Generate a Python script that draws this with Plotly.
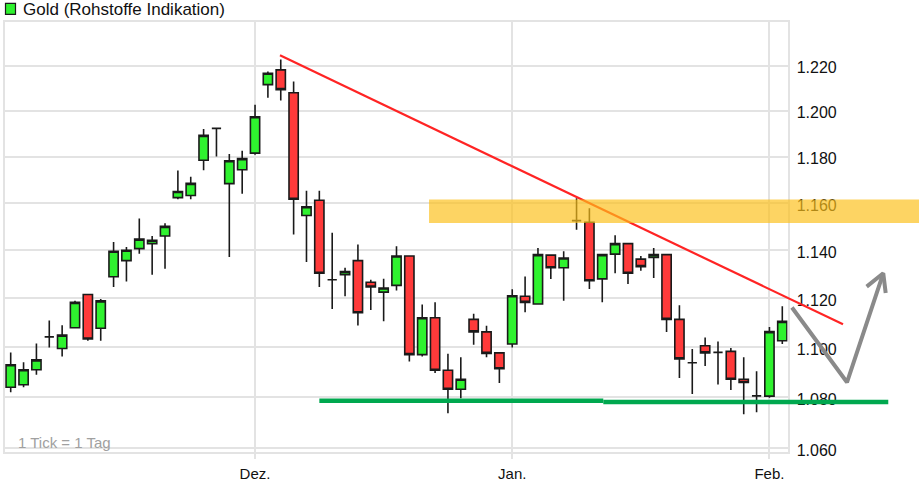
import math
import pandas as pd
import plotly.graph_objects as go

# ---------------- data ----------------
HOLIDAYS = ["2009-12-24", "2009-12-25", "2009-12-31", "2010-01-01"]
_days = pd.bdate_range("2009-11-04", "2010-02-02")
DATES = [d.strftime("%Y-%m-%d") for d in _days if d.strftime("%Y-%m-%d") not in HOLIDAYS]

OPEN = [1084, 1085, 1091, 1104.3, 1099.6, 1108, 1121.6, 1107.8, 1129, 1135.7,
        1140.7, 1142.8, 1146, 1162.3, 1163.2, 1178.4, 1192.3, 1168.3, 1174.3, 1181.5,
        1211.6, 1218.2, 1208, 1154.7, 1161.2, 1127.7, 1129.8, 1135.7, 1126.7, 1122.6,
        1125.4, 1137.6, 1097.1, 1112.1, 1090.8, 1083.2, 1111.4, 1106.3, 1097.8, 1101.4,
        1120.9, 1117.7, 1138, 1132.7, 1152.5, 1151.8, 1128.1, 1138.4, 1142.8, 1136.3,
        1137, 1138.2, 1111.4, 1093.8, 1100.7, 1098, 1098.4, 1087.2, 1080.6, 1080.5,
        1102.7]
HIGH = [1098, 1094, 1101.6, 1111, 1109, 1119, 1121.8, 1119.8, 1143.5, 1141.4,
        1153.4, 1146, 1151.4, 1174, 1171.3, 1192, 1192.5, 1181.1, 1182.5, 1202.7,
        1217.5, 1222.9, 1213, 1165.2, 1165.2, 1147.4, 1132.7, 1142.4, 1127.7, 1128.1,
        1141.7, 1137.8, 1117.5, 1118.4, 1097.4, 1096, 1113.7, 1108.8, 1098, 1123.8,
        1129.1, 1141, 1138.2, 1139.6, 1162, 1157.8, 1138.4, 1146.3, 1143, 1137.6,
        1141, 1138.4, 1117.2, 1099.4, 1104, 1102.4, 1099.8, 1096, 1090.4, 1108.3,
        1116.8]
LOW = [1082, 1084, 1089, 1100, 1096.3, 1107.7, 1102.7, 1102.7, 1124.7, 1127,
       1138.6, 1129.8, 1132.3, 1161.6, 1161.6, 1174.1, 1180, 1137.2, 1164, 1180.8,
       1205.8, 1204.6, 1146.7, 1135.1, 1124.7, 1115.7, 1120.9, 1108.9, 1115.2, 1110.6,
       1123.3, 1094.3, 1096.3, 1089.7, 1073.7, 1079.6, 1101.1, 1096, 1085.7, 1100,
       1114.3, 1117.5, 1128, 1119.1, 1148.6, 1123.9, 1118.4, 1130.4, 1126, 1131.5,
       1128.4, 1106.3, 1087.7, 1081.3, 1092.5, 1085.1, 1082.9, 1073.3, 1074.1, 1079.8,
       1101.4]
CLOSE = [1093, 1091, 1095, 1104.3, 1105, 1118.4, 1103.4, 1119, 1139.6, 1140,
         1144.7, 1144.2, 1150.1, 1164.9, 1168.4, 1189.2, 1192.3, 1178.2, 1179.1, 1197.4,
         1216.7, 1209.4, 1161.6, 1158.4, 1130.4, 1127.7, 1131.1, 1114.1, 1124.7, 1124.3,
         1137.6, 1097.1, 1112.1, 1090.8, 1083.2, 1087.2, 1106.3, 1097.6, 1091.4, 1121.1,
         1118.4, 1138.2, 1132.7, 1136.8, 1152.5, 1127.3, 1138.2, 1142.8, 1130.4, 1133.2,
         1138.2, 1111.4, 1095.4, 1093.8, 1097.8, 1098, 1087.2, 1085.9, 1080.6, 1106.4,
         1110.6]

X_TICKS = ["2009-12-01", "2010-01-04", "2010-02-01"]
X_TICK_LABELS = ["Dez.", "Jan.", "Feb."]
Y_TICKS = [1060, 1080, 1100, 1120, 1140, 1160, 1180, 1200, 1220]
Y_TICK_LABELS = ["1.060", "1.080", "1.100", "1.120", "1.140", "1.160", "1.180", "1.200", "1.220"]

# drawing aids, in (trading-day index, price)
TREND_X = [20.94, 64.72]
TREND_Y = [1224.75, 1109.4]
RESIST_X = [32.53, 72.0]
RESIST_LOW, RESIST_HIGH = 1151.5, 1161.5
SUPPORT1_X = [24.0, 46.08]
SUPPORT1_Y = 1078.6
SUPPORT2_X = [46.08, 68.24]
SUPPORT2_Y = 1078.1
ARROW_X = [60.75, 65.03, 67.85]
ARROW_Y = [1116.3, 1086.0, 1130.4]
HEAD_X = [66.56, 67.85, 68.04]
HEAD_Y = [1124.9, 1130.4, 1122.2]

# ---------------- layout geometry ----------------
W, H = 919, 490
X0_PX, DX_PX = 10.7, 12.86          # pixel of first candle, pixels per day
REF_PRICE, REF_PX, PX_PER_DEC = 1220.0, 66.7, 6339.0
PL, PR, PT, PB = 5.0, 787.5, 22.0, 458.0


def idx_at(px):
    return (px - X0_PX) / DX_PX


def log_at(py):
    return math.log10(REF_PRICE) - (py - REF_PX) / PX_PER_DEC


GRID = "#e3e3e3"
FONT = "Liberation Sans, Arial, sans-serif"

fig = go.Figure()
fig.add_trace(go.Candlestick(
    x=DATES, open=OPEN, high=HIGH, low=LOW, close=CLOSE,
    increasing=dict(fillcolor="#2ff22f", line=dict(color="#1a1a1a", width=1.6)),
    decreasing=dict(fillcolor="#ff3a3a", line=dict(color="#1a1a1a", width=1.6)),
    whiskerwidth=0, showlegend=False, hoverinfo="skip",
    xaxis="x", yaxis="y",
))

# overlay drawing aids (full-figure invisible axes)
fig.add_trace(go.Scatter(x=TREND_X, y=TREND_Y, mode="lines",
                         line=dict(color="#ff2424", width=2.2),
                         xaxis="x2", yaxis="y2", showlegend=False, hoverinfo="skip"))
fig.add_trace(go.Scatter(
    x=[RESIST_X[0], RESIST_X[1], RESIST_X[1], RESIST_X[0], RESIST_X[0]],
    y=[RESIST_LOW, RESIST_LOW, RESIST_HIGH, RESIST_HIGH, RESIST_LOW],
    mode="lines", fill="toself", fillcolor="rgba(252,192,25,0.68)",
    line=dict(width=0), xaxis="x2", yaxis="y2", showlegend=False, hoverinfo="skip"))
for sx, sy in ((SUPPORT1_X, SUPPORT1_Y), (SUPPORT2_X, SUPPORT2_Y)):
    fig.add_trace(go.Scatter(x=sx, y=[sy, sy], mode="lines",
                             line=dict(color="#00a84f", width=4.5),
                             xaxis="x2", yaxis="y2", showlegend=False, hoverinfo="skip"))
fig.add_trace(go.Scatter(x=ARROW_X, y=ARROW_Y, mode="lines",
                         line=dict(color="#8a8a8a", width=4),
                         xaxis="x2", yaxis="y2", showlegend=False, hoverinfo="skip"))
fig.add_trace(go.Scatter(x=HEAD_X, y=HEAD_Y, mode="lines",
                         line=dict(color="#8a8a8a", width=4),
                         xaxis="x2", yaxis="y2", showlegend=False, hoverinfo="skip"))

fig.update_layout(
    width=W, height=H, autosize=False,
    margin=dict(l=0, r=0, t=0, b=0, pad=0),
    paper_bgcolor="white", plot_bgcolor="rgba(0,0,0,0)",
    showlegend=False, boxgap=0.28, boxgroupgap=0,
    font=dict(family=FONT, color="#111111"),
    xaxis=dict(
        type="category", domain=[PL / W, PR / W], range=[idx_at(PL), idx_at(PR)],
        anchor="y", tickvals=X_TICKS, ticktext=X_TICK_LABELS,
        showgrid=True, gridcolor=GRID, gridwidth=2,
        ticks="outside", ticklen=5, tickwidth=2, tickcolor=GRID,
        ticklabelstandoff=2,
        showline=True, mirror=True, linecolor=GRID, linewidth=2,
        zeroline=False, tickfont=dict(family=FONT, size=15, color="#111111"),
        rangeslider=dict(visible=False), fixedrange=True,
    ),
    yaxis=dict(
        type="log", domain=[1 - PB / H, 1 - PT / H], range=[log_at(PB), log_at(PT)],
        anchor="x", side="right", tickvals=Y_TICKS, ticktext=Y_TICK_LABELS,
        showgrid=True, gridcolor=GRID, gridwidth=2,
        ticks="outside", ticklen=4, tickcolor="rgba(0,0,0,0)",
        ticklabelshift=2,
        showline=True, mirror=True, linecolor=GRID, linewidth=2,
        zeroline=False, tickfont=dict(family=FONT, size=16, color="#111111"),
        fixedrange=True,
    ),
    xaxis2=dict(domain=[0, 1], range=[idx_at(0), idx_at(W)], anchor="y2",
                visible=False, fixedrange=True),
    yaxis2=dict(domain=[0, 1], type="log", range=[log_at(H), log_at(0)], anchor="x2",
                visible=False, fixedrange=True),
    annotations=[
        dict(text="Gold (Rohstoffe Indikation)", xref="paper", yref="paper",
             x=20.5 / W, y=1 - 10 / H, xanchor="left", yanchor="middle",
             showarrow=False, font=dict(family=FONT, size=17, color="#111111")),
        dict(text="1 Tick = 1 Tag", xref="paper", yref="paper",
             x=16 / W, y=1 - 447.5 / H, xanchor="left", yanchor="middle",
             showarrow=False, font=dict(family=FONT, size=15, color="#a0a0a0")),
    ],
    shapes=[
        dict(type="rect", xref="paper", yref="paper",
             x0=5.5 / W, x1=15.5 / W, y0=1 - 14.5 / H, y1=1 - 3.5 / H,
             fillcolor="#2ff22f", line=dict(color="#1a1a1a", width=1.2)),
    ],
)

fig.write_html("out.html", config={"displayModeBar": False},
               post_script="document.body.style.margin='0px';document.body.style.overflow='hidden';")
